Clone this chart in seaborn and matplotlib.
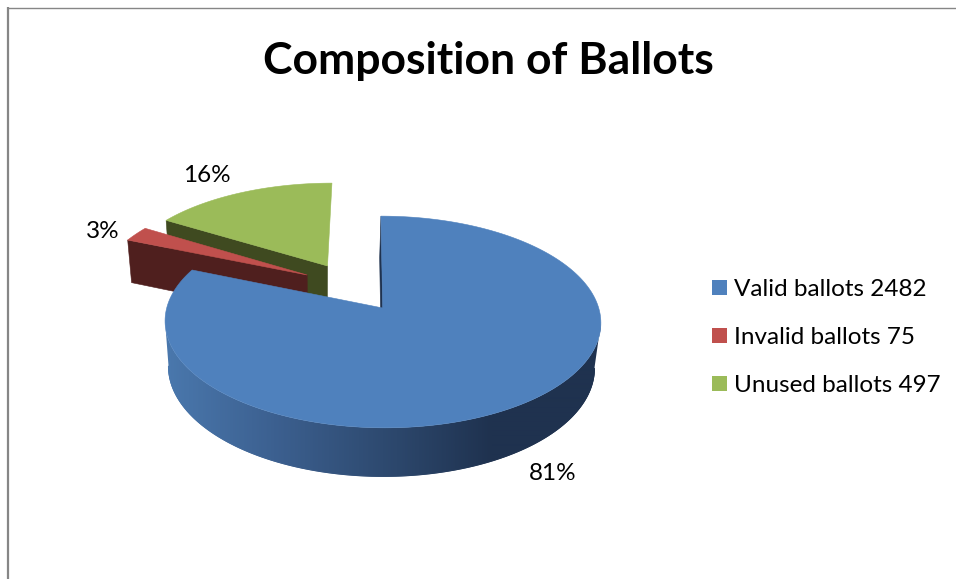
import numpy as np
import matplotlib
matplotlib.use("Agg")
import matplotlib.pyplot as plt
from matplotlib.patches import Patch, Polygon
from matplotlib.collections import LineCollection
import seaborn as sns

# Ballot counts and their printed shares
categories = ["Valid ballots", "Invalid ballots", "Unused ballots"]
counts = [2482, 75, 497]
share_labels = ["81%", "3%", "16%"]
chart_title = "Composition of Ballots"

top_colors = ["#4f81bd", "#c0504d", "#9bbb59"]
wall_colors = ["#1f324f", "#4f1f1e", "#3f4a20"]
rim_ramp = ["#4a78ad", "#3c6090", "#2e4a70", "#1f324f", "#1f324f"]

# Disc offset of each slice (pulled out from the centre, in radius units)
slice_shift = [(0.0, 0.0), (-0.362, 0.331), (-0.266, 0.427)]
share_xy = [(553, 474), (102.5, 232), (207, 176)]

sns.set_theme(style="white")
plt.rcParams["font.family"] = ["Lato", "DejaVu Sans"]

# Perspective camera, screen units are pixels
X0, Y0 = 382.7, 308.0
RX, RY, DROP = 216.0, 104.0, 46.0
K_V, K_Z = 0.132, 0.023
SKEW_V, SKEW_Z = -2.0, -1.5


def project(u, v, z=0.0):
    u, v = np.asarray(u, float), np.asarray(v, float)
    w = 1 + K_V * v + K_Z * z
    return X0 + (RX * u + SKEW_V * v + SKEW_Z * z) / w, Y0 + (-RY * v + DROP * z) / w


def disc(theta, r, shift):
    t = np.radians(theta)
    return shift[0] + r * np.sin(t), shift[1] + r * np.cos(t)


def poly(ax, uv_top, color, z=0.0, zorder=2):
    x, y = project(uv_top[0], uv_top[1], z)
    ax.add_patch(Polygon(np.column_stack([x, y]), closed=True, facecolor=color,
                         edgecolor=color, linewidth=0.4, zorder=zorder))


def wall(ax, theta, shift, color, zorder):
    ends_u, ends_v = disc(np.array([theta, theta]), np.array([0.0, 1.0]), shift)
    xa, ya = project(ends_u, ends_v, 0.0)
    xb, yb = project(ends_u, ends_v, 1.0)
    pts = np.column_stack([np.r_[xa, xb[::-1]], np.r_[ya, yb[::-1]]])
    ax.add_patch(Polygon(pts, closed=True, facecolor=color, edgecolor=color,
                         linewidth=0.4, zorder=zorder))


fig = plt.figure(figsize=(9.56, 5.79), dpi=100)
ax = fig.add_axes([0, 0, 1, 1])
ax.set_xlim(0, 956)
ax.set_ylim(579, 0)
ax.axis("off")

# Frame of the chart area: only its top and left edges fall inside the canvas
ax.plot([8, 8], [579, 7], color="#868686", lw=1.6, solid_capstyle="butt")
ax.plot([7, 956], [7.6, 7.6], color="#868686", lw=1.0, solid_capstyle="butt")

total = sum(counts)
spans = np.cumsum([0] + counts) / total * 360.0

# Paint from the back: unused, invalid, then the large valid slice
for idx in (2, 1, 0):
    start, end = spans[idx], spans[idx + 1]
    shift = slice_shift[idx]
    theta = np.linspace(start, end, 240)
    z_base = 3 + (2 - idx) * 3

    if idx == 0:
        wall(ax, 0.0, shift, wall_colors[0], z_base)

        # Outer rim: a horizontal shade ramp clipped to the band between the two rims,
        # limited to the front-facing arc so the band never folds over itself
        ramp = sns.blend_palette(rim_ramp, 436)
        band_theta = np.linspace(start, end, 1200)
        ru, rv = disc(band_theta, 1.0, shift)
        xt, yt = project(ru, rv, 0.0)
        front = np.arange(np.argmax(xt), np.argmin(xt) + 1)
        xt, yt = xt[front], yt[front]
        xb, yb = project(ru[front], rv[front], 1.0)
        band = Polygon(np.column_stack([np.r_[xt, xb[::-1]], np.r_[yt, yb[::-1]]]),
                       closed=True, transform=ax.transData, facecolor="none", edgecolor="none")
        ax.add_patch(band)
        image = ax.imshow(np.array(ramp)[None, :, :], extent=(165, 601, 500, 200), aspect="auto",
                          interpolation="bilinear", zorder=z_base)
        image.set_clip_path(band)
        ax.set_xlim(0, 956)
        ax.set_ylim(579, 0)

        # Soften the lower outline of the rim with short strokes in the local shade
        pts = np.column_stack([xb, yb])
        segs = np.stack([pts[:-1], pts[1:]], axis=1)
        pos = np.clip((xb[:-1] - 165) / 436, 0, 1)
        strokes = [ramp[int(p * 435)] for p in pos]
        ax.add_collection(LineCollection(segs, colors=strokes, linewidths=0.8,
                                         capstyle="round", zorder=z_base))
    else:
        wall(ax, start, shift, wall_colors[idx], z_base)

    ru, rv = disc(theta, 1.0, shift)
    poly(ax, (np.r_[shift[0], ru], np.r_[shift[1], rv]), top_colors[idx], zorder=z_base + 1)

for label, (tx, ty) in zip(share_labels, share_xy):
    ax.text(tx, ty, label, fontsize=17.5, color="black", ha="center", va="center", zorder=20)

ax.text(488, 61, chart_title, fontsize=32, fontweight="bold", color="black",
        ha="center", va="center", zorder=20)

handles = [Patch(facecolor=c, edgecolor="none") for c in top_colors]
names = [f"{c} {n}" for c, n in zip(categories, counts)]
ax.legend(handles, names, loc="upper left", bbox_to_anchor=(712, 279),
          bbox_transform=ax.transData, frameon=False, fontsize=17.5, labelcolor="black",
          handlelength=0.62, handleheight=0.62, handletextpad=0.29,
          labelspacing=1.11, borderpad=0, borderaxespad=0)

fig.savefig("out.png", dpi=100, facecolor="white")
